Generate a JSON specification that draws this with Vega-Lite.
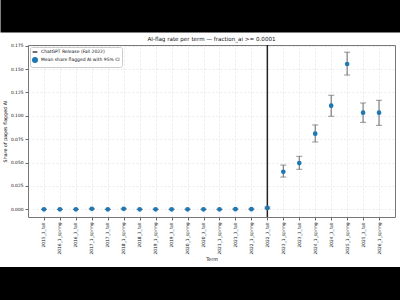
{
  "$schema": "https://vega.github.io/schema/vega-lite/v6.json",
  "width": 367,
  "height": 172,
  "autosize": {"type": "none"},
  "padding": {"left": 28, "top": 45, "right": 5, "bottom": 83},
  "background": "black",
  "config": {
    "font": "DejaVu Sans",
    "view": {"fill": "white", "stroke": "white", "strokeWidth": 100}
  },
  "title": {
    "text": "AI-flag rate per term — fraction_ai >= 0.0001",
    "fontSize": 5.6,
    "fontWeight": "normal",
    "color": "#111",
    "anchor": "middle",
    "offset": 3,
    "dy": 42
  },
  "datasets": {
    "terms": [
      {"term": "2015_3_fall", "mean": 0.0, "lo": 0.0, "hi": 0.0, "series": "Mean share flagged AI with 95% CI"},
      {"term": "2016_1_spring", "mean": 0.0, "lo": 0.0, "hi": 0.0, "series": "Mean share flagged AI with 95% CI"},
      {"term": "2016_3_fall", "mean": 0.0, "lo": 0.0, "hi": 0.0, "series": "Mean share flagged AI with 95% CI"},
      {"term": "2017_1_spring", "mean": 0.0005, "lo": 0.0, "hi": 0.001, "series": "Mean share flagged AI with 95% CI"},
      {"term": "2017_3_fall", "mean": 0.0, "lo": 0.0, "hi": 0.0, "series": "Mean share flagged AI with 95% CI"},
      {"term": "2018_1_spring", "mean": 0.0005, "lo": 0.0, "hi": 0.001, "series": "Mean share flagged AI with 95% CI"},
      {"term": "2018_3_fall", "mean": 0.0, "lo": 0.0, "hi": 0.0, "series": "Mean share flagged AI with 95% CI"},
      {"term": "2019_1_spring", "mean": 0.0, "lo": 0.0, "hi": 0.0, "series": "Mean share flagged AI with 95% CI"},
      {"term": "2019_3_fall", "mean": 0.0, "lo": 0.0, "hi": 0.0, "series": "Mean share flagged AI with 95% CI"},
      {"term": "2020_1_spring", "mean": 0.0, "lo": 0.0, "hi": 0.0, "series": "Mean share flagged AI with 95% CI"},
      {"term": "2020_3_fall", "mean": 0.0, "lo": 0.0, "hi": 0.0, "series": "Mean share flagged AI with 95% CI"},
      {"term": "2021_1_spring", "mean": 0.0, "lo": 0.0, "hi": 0.0, "series": "Mean share flagged AI with 95% CI"},
      {"term": "2021_3_fall", "mean": 0.0002, "lo": 0.0, "hi": 0.0005, "series": "Mean share flagged AI with 95% CI"},
      {"term": "2022_1_spring", "mean": 0.0002, "lo": 0.0, "hi": 0.0005, "series": "Mean share flagged AI with 95% CI"},
      {"term": "2022_3_fall", "mean": 0.0015, "lo": 0.0006, "hi": 0.0024, "series": "Mean share flagged AI with 95% CI"},
      {"term": "2023_1_spring", "mean": 0.0402, "lo": 0.0345, "hi": 0.0473, "series": "Mean share flagged AI with 95% CI"},
      {"term": "2023_3_fall", "mean": 0.0495, "lo": 0.0428, "hi": 0.0567, "series": "Mean share flagged AI with 95% CI"},
      {"term": "2024_1_spring", "mean": 0.0809, "lo": 0.072, "hi": 0.0902, "series": "Mean share flagged AI with 95% CI"},
      {"term": "2024_3_fall", "mean": 0.1108, "lo": 0.0995, "hi": 0.122, "series": "Mean share flagged AI with 95% CI"},
      {"term": "2025_1_spring", "mean": 0.1554, "lo": 0.1436, "hi": 0.168, "series": "Mean share flagged AI with 95% CI"},
      {"term": "2025_3_fall", "mean": 0.1033, "lo": 0.093, "hi": 0.1137, "series": "Mean share flagged AI with 95% CI"},
      {"term": "2026_1_spring", "mean": 0.1033, "lo": 0.0898, "hi": 0.1166, "series": "Mean share flagged AI with 95% CI"}
    ],
    "release": [
      {"term": "2022_3_fall", "series": "ChatGPT Release (Fall 2022)"}
    ]
  },
  "resolve": {"axis": {"x": "independent", "y": "independent"}},
  "layer": [
    {
      "data": {"name": "release"},
      "mark": {"type": "rule", "strokeWidth": 1.5},
      "encoding": {
        "x": {
          "field": "term",
          "type": "ordinal",
          "scale": {"type": "point", "padding": 1},
          "axis": {
            "orient": "bottom",
            "title": "Term",
            "titleFontSize": 4.8,
            "titleFontWeight": "normal",
            "titleColor": "#111",
            "titlePadding": 2,
            "labelAngle": 270,
            "labelFontSize": 4.4,
            "labelColor": "#111",
            "labelPadding": 2,
            "tickSize": 3,
            "tickColor": "#666",
            "domainColor": "#777",
            "grid": true,
            "gridColor": "#dddddd",
            "gridDash": [2, 2],
            "gridWidth": 0.6
          }
        },
        "color": {
          "field": "series",
          "type": "nominal",
          "scale": {
            "domain": ["ChatGPT Release (Fall 2022)", "Mean share flagged AI with 95% CI"],
            "range": ["#222222", "#1f77b4"]
          },
          "legend": {
            "title": null,
            "orient": "top-left",
            "offset": 2,
            "padding": 2,
            "fillColor": "white",
            "strokeColor": "#cccccc",
            "cornerRadius": 2,
            "labelFontSize": 4.5,
            "labelColor": "#111",
            "labelOffset": 3,
            "rowPadding": 0,
            "symbolSize": 22,
            "symbolStrokeWidth": 1.3
          }
        }
      }
    },
    {
      "data": {"name": "terms"},
      "mark": {"type": "errorbar", "ticks": {"size": 6}, "color": "#666666"},
      "encoding": {
        "x": {"field": "term", "type": "ordinal", "axis": null},
        "y": {"field": "lo", "type": "quantitative", "axis": null},
        "y2": {"field": "hi"}
      }
    },
    {
      "data": {"name": "terms"},
      "mark": {"type": "point", "filled": true, "opacity": 1, "size": 22},
      "encoding": {
        "x": {
          "field": "term",
          "type": "ordinal",
          "axis": {
            "orient": "top",
            "title": null,
            "labels": false,
            "ticks": false,
            "grid": false,
            "offset": 41,
            "domainColor": "black",
            "domainWidth": 56,
            "domainCap": "square"
          }
        },
        "y": {
          "field": "mean",
          "type": "quantitative",
          "title": "Share of pages flagged AI",
          "scale": {"domain": [-0.0082, 0.1757], "nice": false, "zero": false},
          "axis": {
            "orient": "left",
            "values": [0, 0.025, 0.05, 0.075, 0.1, 0.125, 0.15, 0.175],
            "format": ".3f",
            "titleFontSize": 4.8,
            "titleFontWeight": "normal",
            "titleColor": "#111",
            "titlePadding": 3,
            "labelFontSize": 4.4,
            "labelColor": "#111",
            "tickSize": 3,
            "tickColor": "#666",
            "domainColor": "#777",
            "grid": true,
            "gridColor": "#dddddd",
            "gridDash": [2, 2],
            "gridWidth": 0.6
          }
        },
        "color": {"field": "series", "type": "nominal"},
        "shape": {
          "field": "series",
          "type": "nominal",
          "scale": {
            "domain": ["ChatGPT Release (Fall 2022)", "Mean share flagged AI with 95% CI"],
            "range": ["stroke", "circle"]
          }
        }
      }
    },
    {
      "data": {"name": "release"},
      "mark": {"type": "rule", "opacity": 0},
      "encoding": {
        "x": {"field": "term", "type": "ordinal", "axis": null},
        "y": {
          "datum": 0,
          "type": "quantitative",
          "axis": {
            "orient": "right",
            "values": [0.1757],
            "labels": false,
            "ticks": false,
            "title": null,
            "domainColor": "#777",
            "grid": true,
            "gridColor": "#777",
            "gridDash": [],
            "gridWidth": 1
          }
        }
      }
    }
  ]
}
